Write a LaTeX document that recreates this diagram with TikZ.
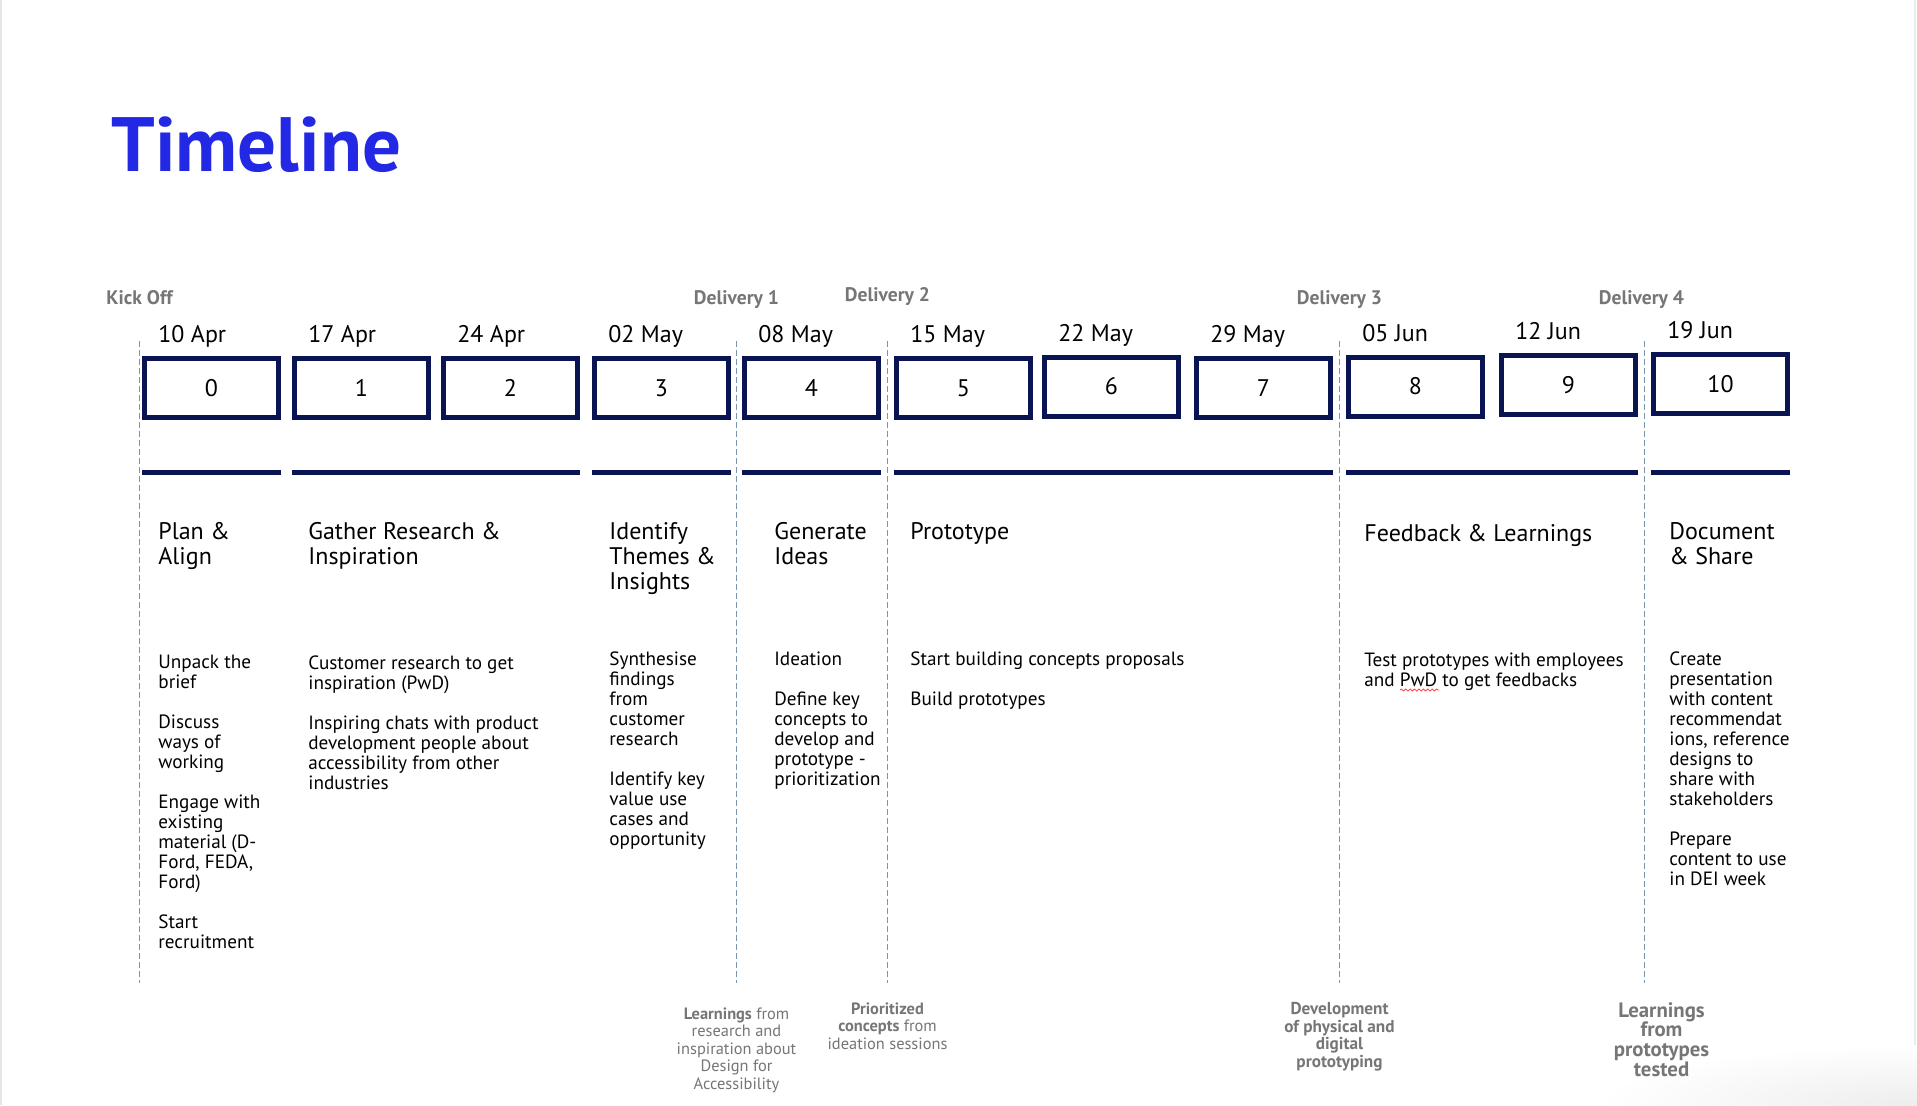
\documentclass[tikz,border=0pt]{standalone}
\usepackage{fontspec}
\setmainfont{PT Sans}
\usetikzlibrary{positioning,calc,decorations.pathmorphing}
\definecolor{titleblue}{RGB}{34,40,228}
\definecolor{navy}{RGB}{10,20,82}
\definecolor{dashblue}{RGB}{122,150,172}
\definecolor{notegray}{RGB}{118,118,118}
\tikzset{
    week box/.style = {
        draw = navy,
        line width = 2.5pt,
        minimum width = 67pt,
        minimum height = 29.5pt,
        inner sep = 0pt,
        font = \fontsize{12}{14}\selectfont,
        },
    week date/.style = {
        inner sep = 0pt,
        text depth = 0pt,
        font = \fontsize{12}{14}\selectfont,
        },
    milestone/.style = {
        inner sep = 0pt,
        text depth = 0pt,
        text = notegray,
        font = \fontsize{9.8}{11}\selectfont\bfseries,
        },
    phase bar/.style = {
        draw = navy,
        line width = 2.5pt,
        },
    phase title/.style = {
        anchor = north west,
        inner sep = 0pt,
        align = left,
        font = \fontsize{12}{12.5}\selectfont,
        },
    phase text/.style = {
        anchor = north west,
        inner sep = 0pt,
        align = left,
        font = \fontsize{9.6}{10}\selectfont,
        },
    delivery line/.style = {
        draw = dashblue,
        line width = 0.7pt,
        dash pattern = on 3pt off 1.5pt,
        },
    outcome/.style = {
        inner sep = 0pt,
        align = center,
        text = notegray,
        font = \fontsize{8.2}{8.8}\selectfont,
        },
    typo wave/.style = {
        draw = red!75,
        line width = 0.4pt,
        decorate,
        decoration = {snake, amplitude=0.5pt, segment length=2.2pt},
        },
}
\begin{document}
\begin{tikzpicture}[x=0.5pt, y=-0.5pt]
    \useasboundingbox (0,0) rectangle (1917,1105);
    \fill[white] (0,0) rectangle (1917,1105);
    \draw[black!10, line width=1pt] (1,0) -- (1,1105);
    \draw[black!8, line width=1pt] (1915,0) -- (1915,1105);
    \begin{scope}
        \clip (0,0) rectangle (1917,1105);
        \shade[inner color=black!7, outer color=white] (1917,1105) ellipse [x radius=320, y radius=60];
    \end{scope}

    \node[anchor=base west, inner sep=0pt, text=titleblue, font=\fontsize{38.5}{42}\selectfont\bfseries] (title) at (111,171) {Timeline};

    \foreach \i/\cx/\cy/\d in {0/211.5/388/10 Apr, 1/361.5/388/17 Apr, 2/510.5/388/24 Apr,
            3/661.5/388/02 May, 4/811.5/388/08 May, 5/963.5/388/15 May, 6/1111.5/386.5/22 May,
            7/1263.5/388/29 May, 8/1415.5/386.5/05 Jun, 9/1568.5/385/12 Jun, 10/1720.5/384/19 Jun}
    {
        \node[week box] (b\i) at (\cx,\cy) {\i};
        \node[week date, above right=6.5pt and 8pt of b\i.north west] (d\i) {\d};
    }

    \coordinate (bar) at (0,472);
    \foreach \s/\e in {0/0, 1/2, 3/3, 4/4, 5/7, 8/9, 10/10}
        \draw[phase bar] (b\s.west |- bar) -- (b\e.east |- bar);

    \coordinate (ytop) at (0,341);
    \coordinate (ybot) at (0,983);
    \coordinate (l0) at ($(b0.west)+(-2.5,0)$);
    \coordinate (l1) at ($(b3.east)!0.5!(b4.west)$);
    \coordinate (l2) at ($(b4.east)!0.5!(b5.west)$);
    \coordinate (l3) at ($(b7.east)!0.5!(b8.west)$);
    \coordinate (l4) at ($(b9.east)!0.5!(b10.west)$);
    \foreach \j in {0,...,4} {
        \coordinate (top\j) at (l\j |- ytop);
        \coordinate (bot\j) at (l\j |- ybot);
        \draw[delivery line] (top\j) -- (bot\j);
    }

    \node[milestone, above=18pt of top0] (m0) {Kick Off};
    \node[milestone, above=18pt of top1] (m1) {Delivery 1};
    \node[milestone, above=19.5pt of top2] (m2) {Delivery 2};
    \node[milestone, above=18pt of top3] (m3) {Delivery 3};
    \node[milestone, above=18pt of top4, xshift=-1.5pt] (m4) {Delivery 4};

    \node[phase title] (p0) at (158,522) {Plan \&\\Align};
    \node[phase title] (p1) at (308,522) {Gather Research \&\\Inspiration};
    \node[phase title] (p3) at (609,522) {Identify\\Themes \&\\Insights};
    \node[phase title] (p4) at (774,522) {Generate\\Ideas};
    \node[phase title] (p5) at (910,522) {Prototype};
    \node[phase title] (p8) at (1364,524) {Feedback \& Learnings};
    \node[phase title] (p10) at (1669,522) {Document\\\& Share};

    \node[phase text] (t0) at (158,655) {Unpack the\\brief\\[10pt]Discuss\\ways of\\working\\[10pt]Engage with\\existing\\material (D-\\Ford, FEDA,\\Ford)\\[10pt]Start\\recruitment};
    \node[phase text] (t1) at (308,655) {Customer research to get\\inspiration (PwD)\\[10pt]Inspiring chats with product\\development people about\\accessibility from other\\industries};
    \node[phase text] (t3) at (609,651) {Synthesise\\findings\\from\\customer\\research\\[10pt]Identify key\\value use\\cases and\\opportunity};
    \node[phase text] (t4) at (774,651) {Ideation\\[10pt]Define key\\concepts to\\develop and\\prototype -\\prioritization};
    \node[phase text] (t5) at (910,651) {Start building concepts proposals\\[10pt]Build prototypes};
    \node[phase text] (t8) at (1364,652) {Test prototypes with employees\\and PwD to get feedbacks};
    \node[phase text] (t10) at (1669,651) {Create\\presentation\\with content\\recommendat\\ions, reference\\designs to\\share with\\stakeholders\\[10pt]Prepare\\content to use\\in DEI week};
    \draw[typo wave] (1400,690) -- (1439,690);

    \node[outcome, below=12pt of bot1] (o1) {\textbf{Learnings} from\\research and\\inspiration about\\Design for\\Accessibility};
    \node[outcome, below=9.5pt of bot2] (o2) {\textbf{Prioritized}\\\textbf{concepts} from\\ideation sessions};
    \node[outcome, below=9.5pt of bot3, font=\fontsize{8.6}{8.8}\selectfont\bfseries] (o3) {Development\\of physical and\\digital\\prototyping};
    \node[outcome, below=9.5pt of bot4, xshift=8.5pt, font=\fontsize{10.4}{9.8}\selectfont\bfseries] (o4) {Learnings\\from\\prototypes\\tested};
\end{tikzpicture}
\end{document}
